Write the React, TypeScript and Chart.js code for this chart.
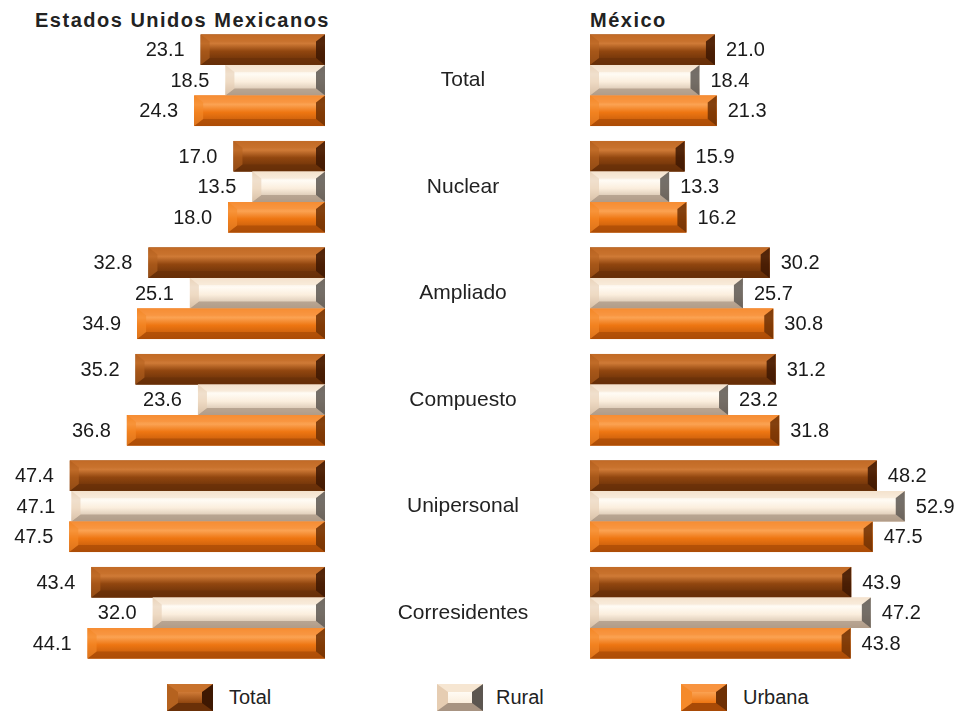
import React, { useEffect, useRef } from "react";
import { Chart, registerables } from "chart.js";

Chart.register(...registerables);

const categories = ["Total", "Nuclear", "Ampliado", "Compuesto", "Unipersonal", "Corresidentes"];
const seriesNames = ["Total", "Rural", "Urbana"];

const eumTotal = [23.1, 17.0, 32.8, 35.2, 47.4, 43.4];
const eumRural = [18.5, 13.5, 25.1, 23.6, 47.1, 32.0];
const eumUrbana = [24.3, 18.0, 34.9, 36.8, 47.5, 44.1];

const mexTotal = [21.0, 15.9, 30.2, 31.2, 48.2, 43.9];
const mexRural = [18.4, 13.3, 25.7, 23.2, 52.9, 47.2];
const mexUrbana = [21.3, 16.2, 30.8, 31.8, 47.5, 43.8];

const leftTitle = "Estados Unidos Mexicanos";
const rightTitle = "México";

type Pal = { top: string; hi: string; main: string; bottom: string; left: string; right: string; tb: string; bb: string };

const palettes: Pal[] = [
  { top: "#b8601e", hi: "#cf7a36", main: "#91460f", bottom: "#5e2a06", left: "#b5621f", right: "#3e1802", tb: "#c8722c", bb: "#6a3008" },
  { top: "#f0dcc6", hi: "#fffbf4", main: "#fbeedd", bottom: "#c4ae98", left: "#e6cdb2", right: "#5c5650", tb: "#f6e6d2", bb: "#a89482" },
  { top: "#f28222", hi: "#fba252", main: "#ee7612", bottom: "#b65208", left: "#f58a2a", right: "#6e3004", tb: "#f89440", bb: "#a84a06" },
];

const FONT = "'Liberation Sans', Arial, sans-serif";

function drawBevelBar(ctx: CanvasRenderingContext2D, l: number, t: number, w: number, h: number, p: Pal) {
  if (w <= 0) return;
  const b = Math.min(9, w / 2);
  const v = Math.min(7, h * 0.24);
  const g = ctx.createLinearGradient(0, t, 0, t + h);
  g.addColorStop(0, p.top);
  g.addColorStop(0.3, p.hi);
  g.addColorStop(0.55, p.main);
  g.addColorStop(1, p.bottom);
  ctx.fillStyle = g;
  ctx.fillRect(l, t, w, h);
  ctx.fillStyle = p.tb;
  ctx.globalAlpha = 0.6;
  ctx.beginPath();
  ctx.moveTo(l, t);
  ctx.lineTo(l + w, t);
  ctx.lineTo(l + w - b, t + v);
  ctx.lineTo(l + b, t + v);
  ctx.closePath();
  ctx.fill();
  ctx.fillStyle = p.bb;
  ctx.globalAlpha = 0.7;
  ctx.beginPath();
  ctx.moveTo(l, t + h);
  ctx.lineTo(l + w, t + h);
  ctx.lineTo(l + w - b, t + h - v);
  ctx.lineTo(l + b, t + h - v);
  ctx.closePath();
  ctx.fill();
  ctx.fillStyle = p.left;
  ctx.globalAlpha = 0.6;
  ctx.beginPath();
  ctx.moveTo(l, t);
  ctx.lineTo(l + b, t + v);
  ctx.lineTo(l + b, t + h - v);
  ctx.lineTo(l, t + h);
  ctx.closePath();
  ctx.fill();
  ctx.fillStyle = p.right;
  ctx.globalAlpha = 0.85;
  ctx.beginPath();
  ctx.moveTo(l + w, t);
  ctx.lineTo(l + w - b, t + v);
  ctx.lineTo(l + w - b, t + h - v);
  ctx.lineTo(l + w, t + h);
  ctx.closePath();
  ctx.fill();
  ctx.globalAlpha = 1;
}

function makePlugin(side: "left" | "right") {
  return {
    id: "bevelLabels" + side,
    afterDatasetsDraw(chart: any) {
      const ctx: CanvasRenderingContext2D = chart.ctx;
      ctx.save();
      chart.data.datasets.forEach((ds: any, di: number) => {
        const meta = chart.getDatasetMeta(di);
        meta.data.forEach((el: any, i: number) => {
          const { x, y, base, height } = el.getProps(["x", "y", "base", "height"], true);
          const l = Math.min(x, base);
          const w = Math.abs(x - base);
          const t = y - height / 2;
          drawBevelBar(ctx, l, t, w, height, palettes[di]);
          const val = ds.data[i] as number;
          ctx.fillStyle = "#1a1a1a";
          ctx.font = "20px " + FONT;
          ctx.textBaseline = "middle";
          if (side === "left") {
            ctx.textAlign = "right";
            ctx.fillText(val.toFixed(1), l - 16, y + 1);
          } else {
            ctx.textAlign = "left";
            ctx.fillText(val.toFixed(1), l + w + 11, y + 1);
          }
        });
      });
      if (side === "right") {
        const ys = chart.scales.y;
        ctx.fillStyle = "#222";
        ctx.font = "21px " + FONT;
        ctx.textAlign = "center";
        ctx.textBaseline = "middle";
        chart.data.labels.forEach((lab: string, i: number) => {
          ctx.fillText(lab, chart.chartArea.left - 127, ys.getPixelForValue(i));
        });
      }
      ctx.restore();
    },
  };
}

function buildConfig(side: "left" | "right", a: number[], b: number[], c: number[]): any {
  const vals = [a, b, c];
  return {
    type: "bar",
    data: {
      labels: categories,
      datasets: vals.map((d, i) => ({
        label: seriesNames[i],
        data: d,
        backgroundColor: palettes[i].main,
        borderWidth: 0,
        categoryPercentage: 0.86,
        barPercentage: 1.0,
      })),
    },
    options: {
      indexAxis: "y",
      responsive: false,
      animation: false,
      devicePixelRatio: 1,
      layout: side === "left" ? { padding: { left: 2, right: 10, top: 27, bottom: 9 } } : { padding: { left: 255, right: 11, top: 27, bottom: 9 } },
      plugins: { legend: { display: false }, tooltip: { enabled: false }, title: { display: false } },
      scales: {
        x: { display: false, min: 0, max: 60, reverse: side === "left" },
        y: { display: false },
      },
    },
    plugins: [makePlugin(side)],
  };
}

function Swatch({ p, left, label, textLeft }: { p: Pal; left: number; label: string; textLeft: number }) {
  return (
    <>
      <div
        style={{
          position: "absolute",
          left,
          top: 684,
          width: 46,
          height: 27,
          boxSizing: "border-box",
          borderStyle: "solid",
          borderTopWidth: 8,
          borderBottomWidth: 8,
          borderLeftWidth: 11,
          borderRightWidth: 11,
          borderTopColor: p.tb,
          borderBottomColor: p.bb,
          borderLeftColor: p.left,
          borderRightColor: p.right,
          background: `linear-gradient(${p.hi}, ${p.main})`,
        }}
      />
      <div style={{ position: "absolute", left: textLeft, top: 683, lineHeight: "28px", fontSize: 20, fontFamily: FONT, color: "#222" }}>{label}</div>
    </>
  );
}

export default function App() {
  const leftRef = useRef<HTMLCanvasElement>(null);
  const rightRef = useRef<HTMLCanvasElement>(null);

  useEffect(() => {
    document.body.style.margin = "0";
    const c1 = new Chart(leftRef.current as HTMLCanvasElement, buildConfig("left", eumTotal, eumRural, eumUrbana));
    const c2 = new Chart(rightRef.current as HTMLCanvasElement, buildConfig("right", mexTotal, mexRural, mexUrbana));
    return () => {
      c1.destroy();
      c2.destroy();
    };
  }, []);

  const titleStyle: React.CSSProperties = {
    position: "absolute",
    top: 7,
    lineHeight: "26px",
    fontSize: 20,
    fontWeight: "bold",
    fontFamily: FONT,
    letterSpacing: "1.5px",
    color: "#222",
    whiteSpace: "nowrap",
  };

  return (
    <div style={{ position: "absolute", left: 0, top: 0, width: 958, height: 711, background: "#fff", overflow: "hidden" }}>
      <div style={{ ...titleStyle, right: 958 - 330, textAlign: "right" }}>{leftTitle}</div>
      <div style={{ ...titleStyle, left: 590 }}>{rightTitle}</div>
      <canvas ref={leftRef} width={335} height={675} style={{ position: "absolute", left: 0, top: 0, width: 335, height: 675 }} />
      <canvas ref={rightRef} width={623} height={675} style={{ position: "absolute", left: 335, top: 0, width: 623, height: 675 }} />
      <Swatch p={palettes[0]} left={167} label={seriesNames[0]} textLeft={229} />
      <Swatch p={palettes[1]} left={437} label={seriesNames[1]} textLeft={496} />
      <Swatch p={palettes[2]} left={681} label={seriesNames[2]} textLeft={743} />
    </div>
  );
}
